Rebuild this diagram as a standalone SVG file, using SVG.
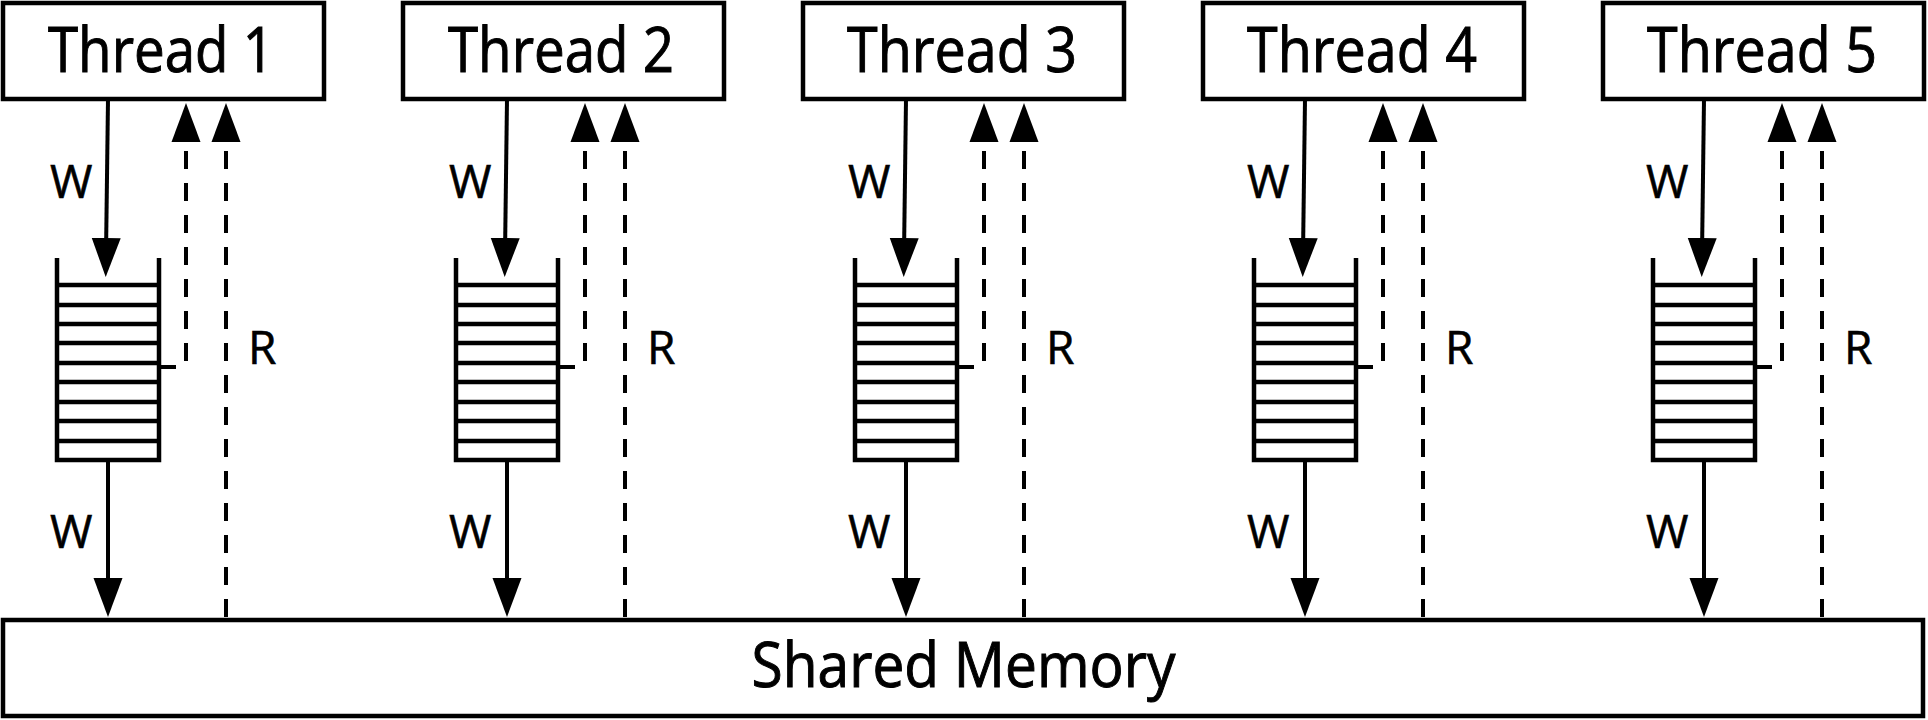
<svg xmlns="http://www.w3.org/2000/svg" xmlns:xlink="http://www.w3.org/1999/xlink" width="1928" height="720" viewBox="0 0 1928 720">
<style>
.box{fill:#fff;stroke:#000;stroke-width:4.5}
.stk{fill:none;stroke:#000;stroke-width:4.5}
.ln{fill:none;stroke:#000;stroke-width:4}
.dash{fill:none;stroke:#000;stroke-width:4;stroke-dasharray:18 14;stroke-dashoffset:22}
.t{font-family:"Open Sans","Liberation Sans",sans-serif;fill:#000;stroke:#000;stroke-width:1}
.big{font-size:63px;text-anchor:middle}
.lbl{font-size:46px;stroke-width:0.6}
</style>
<defs>
<marker id="ah" markerUnits="userSpaceOnUse" markerWidth="40" markerHeight="30" viewBox="0 0 40 30" refX="1" refY="15" orient="auto">
<path d="M0,0.5 L39,15 L0,29.5 z" fill="#000"/>
</marker>
<marker id="ahs" markerUnits="userSpaceOnUse" markerWidth="40" markerHeight="30" viewBox="0 0 40 30" refX="1" refY="15" orient="auto-start-reverse">
<path d="M0,0.5 L39,15 L0,29.5 z" fill="#000"/>
</marker>
<g id="stackShape">
<path class="stk" d="M57,258 V460 H159 V258"/>
<path class="stk" d="M57,285 H159 M57,305 H159 M57,324 H159 M57,343 H159 M57,363 H159 M57,382 H159 M57,402 H159 M57,421 H159 M57,441 H159"/>
<path class="ln" d="M159,367 H176"/>
</g>
</defs>
<rect width="1928" height="720" fill="#fff"/>

<g id="thread1"><rect class="box" x="3" y="3" width="321" height="96"/><text class="t big" x="161" y="72" textLength="226" lengthAdjust="spacingAndGlyphs">Thread 1</text></g>
<g id="thread2"><rect class="box" x="403" y="3" width="321" height="96"/><text class="t big" x="561" y="72" textLength="226" lengthAdjust="spacingAndGlyphs">Thread 2</text></g>
<g id="thread3"><rect class="box" x="803" y="3" width="321" height="96"/><text class="t big" x="962" y="72" textLength="230" lengthAdjust="spacingAndGlyphs">Thread 3</text></g>
<g id="thread4"><rect class="box" x="1203" y="3" width="321" height="96"/><text class="t big" x="1362" y="72" textLength="230" lengthAdjust="spacingAndGlyphs">Thread 4</text></g>
<g id="thread5"><rect class="box" x="1603" y="3" width="321" height="96"/><text class="t big" x="1762" y="72" textLength="230" lengthAdjust="spacingAndGlyphs">Thread 5</text></g>

<g id="buffer1"><use xlink:href="#stackShape" href="#stackShape" x="0"/></g>
<g id="buffer2"><use xlink:href="#stackShape" href="#stackShape" x="399"/></g>
<g id="buffer3"><use xlink:href="#stackShape" href="#stackShape" x="798"/></g>
<g id="buffer4"><use xlink:href="#stackShape" href="#stackShape" x="1197"/></g>
<g id="buffer5"><use xlink:href="#stackShape" href="#stackShape" x="1596"/></g>

<g id="shared-memory"><rect class="box" x="3" y="620" width="1920" height="96"/><text class="t big" x="963.5" y="687" font-size="62" textLength="424" lengthAdjust="spacingAndGlyphs">Shared Memory</text></g>

<g id="connectors">
<path class="ln" d="M108,99 L106.2,239" marker-end="url(#ah)"/>
<path class="ln" d="M507,99 L505.2,239" marker-end="url(#ah)"/>
<path class="ln" d="M906,99 L904.2,239" marker-end="url(#ah)"/>
<path class="ln" d="M1305,99 L1303.2,239" marker-end="url(#ah)"/>
<path class="ln" d="M1704,99 L1702.2,239" marker-end="url(#ah)"/>

<path class="ln" d="M108,460 V579" marker-end="url(#ah)"/>
<path class="ln" d="M507,460 V579" marker-end="url(#ah)"/>
<path class="ln" d="M906,460 V579" marker-end="url(#ah)"/>
<path class="ln" d="M1305,460 V579" marker-end="url(#ah)"/>
<path class="ln" d="M1704,460 V579" marker-end="url(#ah)"/>

<path class="dash" d="M186,141 V363" marker-start="url(#ahs)"/>
<path class="dash" d="M585,141 V363" marker-start="url(#ahs)"/>
<path class="dash" d="M984,141 V363" marker-start="url(#ahs)"/>
<path class="dash" d="M1383,141 V363" marker-start="url(#ahs)"/>
<path class="dash" d="M1782,141 V363" marker-start="url(#ahs)"/>

<path class="dash" d="M226,141 V620" marker-start="url(#ahs)"/>
<path class="dash" d="M625,141 V620" marker-start="url(#ahs)"/>
<path class="dash" d="M1024,141 V620" marker-start="url(#ahs)"/>
<path class="dash" d="M1423,141 V620" marker-start="url(#ahs)"/>
<path class="dash" d="M1822,141 V620" marker-start="url(#ahs)"/>

<g class="t lbl">
<text x="50" y="198">W</text><text x="449" y="198">W</text><text x="848" y="198">W</text><text x="1247" y="198">W</text><text x="1646" y="198">W</text>
<text x="50" y="548">W</text><text x="449" y="548">W</text><text x="848" y="548">W</text><text x="1247" y="548">W</text><text x="1646" y="548">W</text>
<text x="248" y="364">R</text><text x="647" y="364">R</text><text x="1046" y="364">R</text><text x="1445" y="364">R</text><text x="1844" y="364">R</text>
</g>
</g>
</svg>
